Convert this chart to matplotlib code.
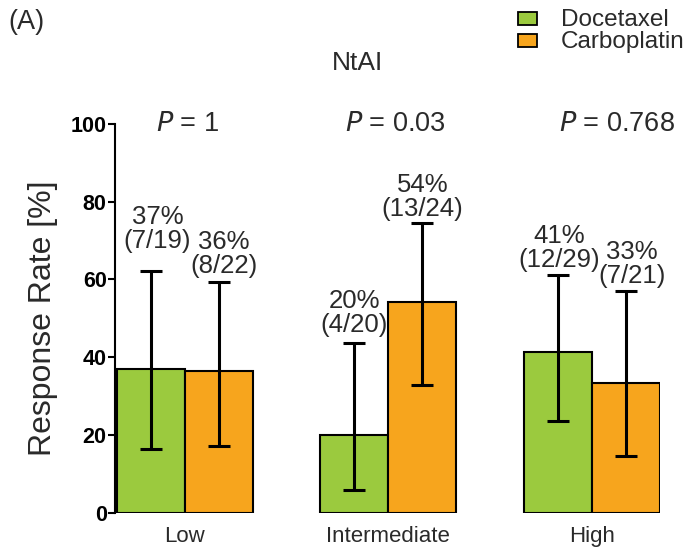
import matplotlib
matplotlib.use("Agg")
from matplotlib import pyplot as plt
from matplotlib.patches import Rectangle
import numpy as np

plt.rc('font', family=['Liberation Sans', 'DejaVu Sans'])

groups = ["Low", "Intermediate", "High"]
treatments = ["Docetaxel", "Carboplatin"]
colors = ["#9BCA3E", "#F7A51D"]

# responders / patients per NtAI group
doc_resp = [7, 4, 12]
doc_n = [19, 20, 29]
carb_resp = [8, 13, 7]
carb_n = [22, 24, 21]

# 95% confidence limits (%)
doc_lo = [16.3, 5.7, 23.5]
doc_hi = [62.2, 43.7, 61.2]
carb_lo = [17.2, 32.8, 14.6]
carb_hi = [59.4, 74.4, 57.1]

p_values = ["1", "0.03", "0.768"]

# small manual nudges for the text above the bars (points)
label_dx = [[5, 4], [0, 0], [1, 4]]
label_dy = [[13, 3], [4, 2], [2, 2]]
p_dx = [0.05, 0.1, 0.37]

text_color = '#2a2a2a'

fig = plt.figure(figsize=(6.87, 5.53), dpi=100)
ax = fig.add_axes([0.1674, 0.0732, 0.7933, 0.7025])

centers = np.arange(len(groups)) * 3.0
series = [
    (doc_resp, doc_n, doc_lo, doc_hi, -0.5),
    (carb_resp, carb_n, carb_lo, carb_hi, 0.5),
]

for k, (resp, n, lo, hi, off) in enumerate(series):
    rate = 100.0 * np.array(resp) / np.array(n)
    x = centers + off
    ax.bar(x, rate, width=1.0, color=colors[k], edgecolor='black',
           linewidth=1.5, zorder=2)
    yerr = [rate - np.array(lo), np.array(hi) - rate]
    ax.errorbar(x, rate, yerr=yerr, fmt='none', ecolor='black',
                elinewidth=2.2, capsize=8, capthick=2.2, zorder=3)
    for i in range(len(groups)):
        ax.annotate(f"{rate[i]:.0f}%\n({resp[i]}/{n[i]})", (x[i], hi[i]),
                    xytext=(label_dx[i][k], label_dy[i][k]),
                    textcoords='offset points',
                    ha='center', va='bottom', fontsize=18.5,
                    color=text_color, linespacing=1.0)

for i, p in enumerate(p_values):
    ax.text(centers[i] + p_dx[i], 98.2, f"$\\it{{P}}$ = {p}",
            ha='center', va='baseline', fontsize=19.5, color=text_color,
            clip_on=False)

ax.set_xlim(-1.025, 7.0)
ax.set_ylim(0, 100)
ax.set_yticks([0, 20, 40, 60, 80, 100])
ax.set_xticks(centers)
ax.set_xticklabels(groups, fontsize=16, color=text_color)
ax.tick_params(axis='x', length=0, pad=10)
ax.tick_params(axis='y', length=5, width=1.5, pad=1, labelsize=15.5)
for t in ax.get_yticklabels():
    t.set_fontweight('bold')
for s in ['top', 'right', 'bottom']:
    ax.spines[s].set_visible(False)
ax.spines['left'].set_linewidth(1.5)
ax.set_ylabel("Response Rate [%]", fontsize=23, color=text_color, labelpad=9)

fig.text(358 / 687, 1 - 70 / 553, "NtAI", ha='center', va='baseline',
         fontsize=19, color=text_color)
fig.text(8 / 687, 1 - 29 / 553, "(A)", ha='left', va='baseline',
         fontsize=19.5, color=text_color)

# legend drawn in figure pixels
W, H = 687, 553
for k, name in enumerate(treatments):
    top = 12 + 22 * k
    fig.patches.append(Rectangle((518 / W, 1 - (top + 13) / H), 19 / W, 13 / H,
                                 transform=fig.transFigure, facecolor=colors[k],
                                 edgecolor='black', linewidth=1.3))
    fig.text(561 / W, 1 - (top + 14) / H, name, ha='left', va='baseline',
             fontsize=17.5, color=text_color)

fig.savefig("out.png", dpi=100)
